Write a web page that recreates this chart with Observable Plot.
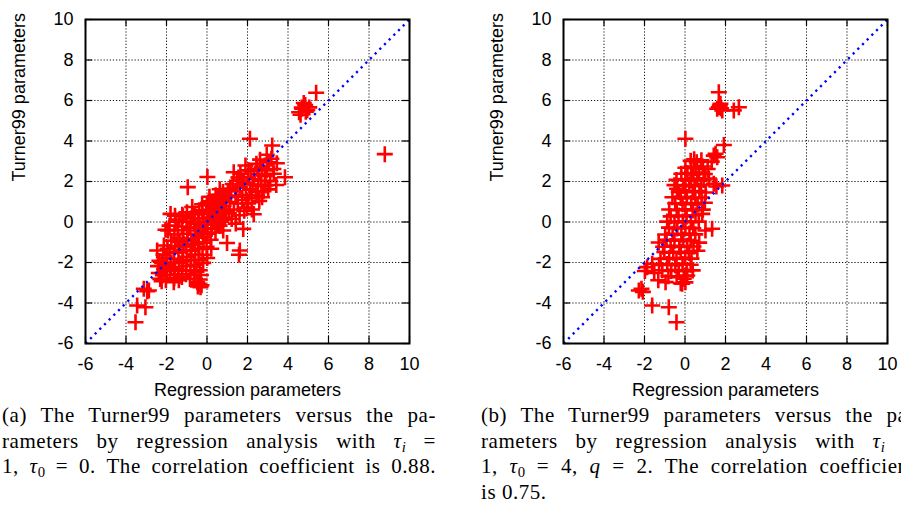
<!DOCTYPE html>
<html><head><meta charset="utf-8">
<script src="https://cdn.jsdelivr.net/npm/d3@7"></script>
<script src="https://cdn.jsdelivr.net/npm/@observablehq/plot@0.6"></script>
<style>
html,body{margin:0;padding:0;background:#fff;}
#wrap{position:relative;width:901px;height:506px;overflow:hidden;background:#fff;}
#pa{position:absolute;left:0;top:0;}
#pb{position:absolute;left:450px;top:0;}
.cap{position:absolute;top:403px;width:434px;font-family:"Liberation Serif","Times New Roman",serif;font-size:21px;letter-spacing:0.55px;line-height:25.5px;color:#000;}
.cap div{text-align:justify;text-align-last:justify;white-space:nowrap;}
.cap div.last{text-align:left;text-align-last:left;}
.cap sub{font-size:70%;vertical-align:-0.3em;line-height:0;letter-spacing:0;}
</style></head>
<body><div id="wrap">
<div id="pa"></div><div id="pb"></div>
<div class="cap" id="capa" style="left:2px"></div>
<div class="cap" id="capb" style="left:481px"></div>
</div>
<script>
// ---- data ----
const axisTicks = [-6, -4, -2, 0, 2, 4, 6, 8, 10];
const diagonal = [-6, 10];
const xLabel = "Regression parameters";
const yLabel = "Turner99 parameters";

// panel (a): [regression, Turner99]
const pointsA = [
[8.78,3.35],
[5.39,6.38],[4.70,5.59],[4.55,5.42],[4.85,5.78],[4.95,5.52],[4.62,5.30],[4.78,5.88],[5.05,5.66],[4.68,5.65],[4.88,5.45],
[2.12,4.11],[3.22,3.78],[3.85,2.21],[-0.95,1.72],[0.02,2.22],
[-3.53,-4.95],[-3.45,-4.12],[-3.04,-4.21],[-2.87,-3.38],[-3.12,-3.30],[-2.95,-3.42],
[-2.46,-1.41],[-2.13,-1.16],[0.99,-1.04],[1.62,-1.41],[1.58,-1.62],[1.79,-0.34],[2.31,0.38],[2.22,0.62],[0.80,-0.42],
[-1.64,-2.97],[-0.48,-2.97],[-0.32,-3.22],[-0.41,-3.06],[-0.36,-2.84],[-0.27,-3.12],[-0.45,-3.18],[-0.30,-2.62],[-0.52,-2.45],
[-1.80,0.40],[-2.05,-0.38],[-0.73,0.74],[-0.68,0.42],[-1.22,0.36],
[2.48,2.63],[3.05,2.95],[3.30,2.38],[2.89,1.80],[2.72,1.22],[2.48,1.31],[1.65,2.38],[1.32,2.46],[1.90,2.79],[2.62,3.08],
[2.95,3.32],[3.28,2.62],[3.12,2.02],[2.86,2.28],[2.68,2.04],[2.52,1.78],[2.33,2.12],[2.18,2.52],[2.02,2.21],[1.83,1.92],
[1.61,1.73],[1.48,2.04],[1.41,1.52],[1.27,1.88],[1.19,1.31],[1.03,1.53],[1.12,0.98],[0.91,1.22],[0.82,0.79],[0.71,1.08],
[0.58,0.63],[0.49,0.92],[0.38,0.41],[0.29,0.74],[2.79,1.52],[2.58,1.04],[2.41,1.49],[2.21,1.18],[2.03,0.92],[2.12,1.61],
[1.92,1.33],[1.74,1.09],[1.52,0.91],[1.33,0.62],[1.08,0.43],[0.89,0.21],[0.68,0.02],[0.51,-0.12],[0.31,0.08],[1.84,0.55],
[1.98,0.71],[1.61,0.33],[1.42,-0.08],[3.42,1.83],[3.02,1.61],[2.71,2.72],[2.44,2.88],[3.18,3.12],[1.22,0.15],[2.55,2.35],
[2.25,1.85],[1.72,2.05],[1.45,1.25],[1.15,1.65],[0.95,0.55],[2.95,2.55],[3.45,2.90],[2.05,2.55],[1.55,2.20],[0.65,1.35],
[0.45,1.15],[0.15,0.55],[0.22,-0.35],[0.05,0.95],[0.12,1.25],
[-2.38,-2.52],[-2.42,-2.18],[-2.31,-2.81],[-2.35,-1.92],
[-2.18,-2.63],[-2.22,-2.02],[-2.15,-1.61],[-2.24,-2.92],[-2.12,-2.33],
[-1.98,-2.42],[-2.02,-1.78],[-1.95,-1.32],[-1.92,-0.42],[-2.03,-2.88],[-1.97,-2.11],
[-1.82,-2.61],[-1.78,-2.22],[-1.83,-1.48],[-1.76,-0.92],[-1.85,-0.18],[-1.79,-2.02],
[-1.62,-2.78],[-1.58,-2.31],[-1.63,-1.82],[-1.57,-1.21],[-1.61,-0.62],[-1.55,0.02],[-1.58,0.31],[-1.64,-1.52],
[-1.42,-2.58],[-1.38,-2.02],[-1.41,-1.48],[-1.36,-0.98],[-1.43,-0.41],[-1.37,0.12],[-1.39,-2.88],[-1.44,-0.78],
[-1.22,-2.41],[-1.18,-1.92],[-1.21,-1.38],[-1.17,-0.82],[-1.23,-0.22],[-1.19,0.28],[-1.16,-1.12],[-1.24,-2.72],
[-1.02,-2.18],[-0.98,-1.72],[-1.03,-1.21],[-0.97,-0.58],[-1.01,0.02],[-0.99,0.48],[-1.04,-2.58],[-0.96,-0.88],
[-0.82,-2.38],[-0.78,-1.88],[-0.81,-1.42],[-0.77,-0.92],[-0.83,-0.28],[-0.79,0.18],[-0.84,-2.81],[-0.76,-1.12],
[-0.62,-2.12],[-0.58,-1.61],[-0.61,-1.08],[-0.57,-0.62],[-0.63,-0.08],[-0.59,0.38],[-0.64,-2.62],[-0.56,-0.42],
[-0.42,-1.88],[-0.38,-1.32],[-0.41,-0.78],[-0.37,-0.28],[-0.43,0.18],[-0.39,0.58],[-0.36,-2.38],[-0.44,-1.02],
[-0.22,-1.62],[-0.18,-1.02],[-0.21,-0.52],[-0.17,0.02],[-0.23,0.48],[-0.19,-2.02],[-0.16,-0.72],[-0.24,0.88],
[-0.02,-1.22],[0.02,-0.58],[-0.03,-0.12],[0.03,0.38],[-0.01,0.82],[0.01,-1.78],[0.04,0.18],
[0.18,-0.88],[0.22,-0.31],[0.19,0.22],[0.23,0.61],[0.17,1.02],[0.21,-1.32],
[0.42,-0.52],[0.38,0.02],[0.41,0.48],[0.37,0.98],[0.43,1.32],
[0.62,-0.18],[0.58,0.32],[0.61,0.81],[0.57,1.28],[0.63,1.62],
[0.78,0.12],[0.81,0.58],[0.83,1.12],[0.79,1.48]
];

// panel (b): [regression, Turner99]
const pointsB = [
[1.67,6.41],[1.67,5.67],[1.75,5.84],[1.59,5.59],[1.84,5.51],[1.72,5.75],[1.78,5.62],[2.66,5.67],[2.41,5.51],
[0.02,4.11],[1.92,3.80],[1.51,3.37],[1.42,3.28],[1.59,3.20],[1.32,2.98],[1.42,1.89],[1.84,1.80],[1.55,1.75],
[1.34,-0.33],[1.01,-0.42],[0.85,0.40],
[-2.28,-3.38],[-2.15,-3.30],[-2.08,-3.45],[-1.62,-4.12],[-0.80,-4.21],[-0.42,-4.95],[-0.96,-2.97],
[-1.87,-2.23],[-1.62,-2.06],[-1.98,-2.42],[-1.52,-2.52],[-1.32,-2.88],[-0.14,-3.05],[-0.06,-2.80],[0.11,-2.64],
[-0.39,1.64],
[0.28,3.02],[0.58,2.95],[0.81,3.05],[0.45,3.10],
[0.02,2.68],[0.31,2.72],[0.52,2.66],[0.88,2.74],[1.12,2.62],
[-0.18,2.38],[0.12,2.42],[0.41,2.35],[0.69,2.44],[0.98,2.37],
[-0.42,2.08],[0.02,2.12],[0.28,2.05],[0.61,2.14],[0.92,2.07],[1.18,2.15],
[-0.52,1.82],[-0.08,1.78],[0.21,1.84],[0.48,1.77],[0.79,1.83],
[-0.31,1.48],[0.02,1.52],[0.38,1.47],[0.71,1.53],[1.02,1.46],
[-0.62,1.22],[-0.21,1.18],[0.09,1.24],[0.51,1.17],[0.82,1.21],
[-0.48,0.92],[-0.12,0.88],[0.31,0.93],[0.62,0.87],[0.98,0.95],
[-0.78,0.62],[-0.41,0.58],[0.02,0.63],[0.38,0.57],[0.88,0.61],
[-0.71,0.28],[-0.32,0.32],[0.08,0.27],[0.52,0.33],
[-0.88,0.02],[-0.52,-0.02],[-0.11,0.03],[0.29,-0.01],[0.68,0.02],
[-0.79,-0.28],[-0.38,-0.32],[0.02,-0.27],[0.41,-0.31],
[-0.98,-0.62],[-0.61,-0.58],[-0.18,-0.63],[0.22,-0.57],[0.51,-0.61],
[-0.91,-0.88],[-0.52,-0.92],[-0.09,-0.87],[0.28,-0.93],[0.70,-1.02],[-1.30,-1.01],
[-1.08,-1.22],[-0.71,-1.18],[-0.28,-1.23],[0.11,-1.17],[0.42,-1.21],[0.61,-1.42],
[-1.02,-1.48],[-0.58,-1.52],[-0.21,-1.47],[0.19,-1.53],
[-1.21,-1.82],[-0.78,-1.78],[-0.42,-1.83],[0.01,-1.77],[0.32,-1.81],
[-1.28,-2.12],[-0.88,-2.08],[-0.48,-2.13],[-0.12,-2.07],[0.28,-2.11],
[-1.12,-2.38],[-0.68,-2.42],[-0.31,-2.37],[0.08,-2.43],[0.38,-2.39],
[-0.82,-2.68],[-0.41,-2.72],[0.01,-2.67],
[-0.21,-3.02],[0.02,-2.98]
];

const captionA = [
  "(a) The Turner99 parameters versus the pa-",
  "rameters by regression analysis with <i>τ</i><sub><i>i</i></sub> =",
  "1, <i>τ</i><sub>0</sub> = 0. The correlation coefficient is 0.88."
];
const captionB = [
  "(b) The Turner99 parameters versus the pa-",
  "rameters by regression analysis with <i>τ</i><sub><i>i</i></sub> =",
  "1, <i>τ</i><sub>0</sub> = 4, <i>q</i> = 2. The correlation coefficient",
  "is 0.75."
];

// ---- drawing ----
const plusSymbol = {
  draw(ctx, size) {
    const r = Math.sqrt(size / Math.PI);
    ctx.moveTo(-r, 0); ctx.lineTo(r, 0);
    ctx.moveTo(0, -r); ctx.lineTo(0, r);
  }
};

function panel(points, width, mLeft, mRight) {
  const mTop = 19, mBottom = 57, height = 400;
  const pw = width - mLeft - mRight, ph = height - mTop - mBottom;
  const tl = 7;
  return Plot.plot({
    width, height,
    marginLeft: mLeft, marginRight: mRight, marginTop: mTop, marginBottom: mBottom,
    style: {fontFamily: "'Liberation Sans', Arial, sans-serif", fontSize: "18px", color: "#000", background: "#fff"},
    x: {domain: [-6, 10]},
    y: {domain: [-6, 10]},
    marks: [
      Plot.gridX(axisTicks, {stroke: "#111", strokeOpacity: 1, strokeWidth: 1, strokeDasharray: "1.2,1.9"}),
      Plot.gridY(axisTicks, {stroke: "#111", strokeOpacity: 1, strokeWidth: 1, strokeDasharray: "1.2,1.9"}),
      Plot.dot(points, {x: d => d[0], y: d => d[1], symbol: plusSymbol, r: 8, stroke: "#ff0000", fill: "none", strokeWidth: 2.6, strokeLinecap: "butt"}),
      Plot.line(diagonal, {x: d => d, y: d => d, stroke: "#0000ff", strokeWidth: 2.4, strokeDasharray: "2.2,4.4", strokeLinecap: "butt"}),
      Plot.tickY(axisTicks, {y: d => d, stroke: "#000", strokeWidth: 1.2, insetRight: pw - tl}),
      Plot.tickY(axisTicks, {y: d => d, stroke: "#000", strokeWidth: 1.2, insetLeft: pw - tl}),
      Plot.tickX(axisTicks, {x: d => d, stroke: "#000", strokeWidth: 1.2, insetTop: ph - tl}),
      Plot.tickX(axisTicks, {x: d => d, stroke: "#000", strokeWidth: 1.2, insetBottom: ph - tl}),
      Plot.frame({stroke: "#000", strokeWidth: 2}),
      Plot.axisX(axisTicks, {tickSize: 0, tickPadding: 14, tickFormat: d => String(d), label: null}),
      Plot.axisY(axisTicks, {tickSize: 0, tickPadding: 12, tickFormat: d => String(d), label: null}),
      Plot.text([xLabel], {text: d => d, frameAnchor: "bottom", dy: 47, lineAnchor: "middle", fontSize: 18}),
      Plot.text([yLabel], {text: d => d, frameAnchor: "left", dx: -66, rotate: -90, lineAnchor: "middle", fontSize: 18})
    ]
  });
}

document.getElementById("pa").appendChild(panel(pointsA, 450, 85, 41));
document.getElementById("pb").appendChild(panel(pointsB, 451, 113, 14));

function caption(el, lines) {
  lines.forEach((t, i) => {
    const d = document.createElement("div");
    d.innerHTML = t;
    if (i === lines.length - 1 && lines.length > 3) d.className = "last";
    el.appendChild(d);
  });
}
caption(document.getElementById("capa"), captionA);
caption(document.getElementById("capb"), captionB);
</script>
</body></html>
